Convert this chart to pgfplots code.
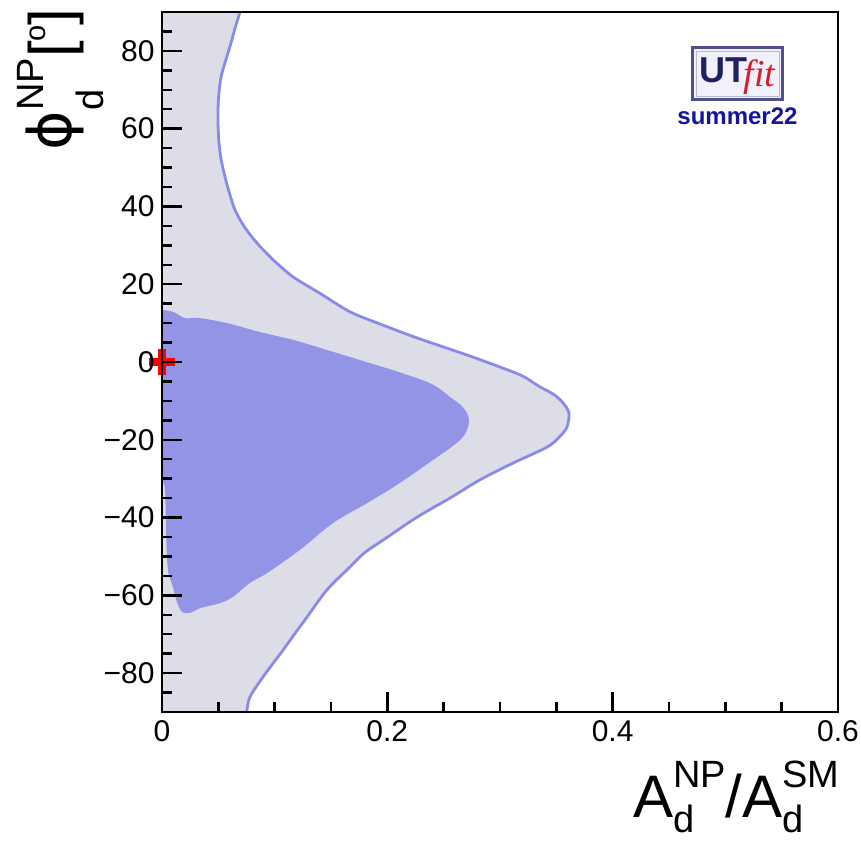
\documentclass[border=0pt]{standalone}
\usepackage{pgfplots}
\pgfplotsset{compat=1.18}
\usepackage{fontspec}
\setmainfont{Liberation Sans}
\newfontfamily\phifont{DejaVu Sans}
\newfontfamily\fitfont{Liberation Serif}

\definecolor{outerfill}{RGB}{221,221,232}
\definecolor{innerfill}{RGB}{148,148,230}
\definecolor{contourline}{RGB}{138,138,234}
\definecolor{utnavy}{RGB}{32,32,96}
\definecolor{summerblue}{RGB}{20,20,160}
\definecolor{fitred}{RGB}{215,30,40}
\definecolor{logoframe}{RGB}{80,80,140}
\definecolor{logoback}{RGB}{242,240,250}

% superscript over subscript, as in A^{NP}_{d}
\newcommand\supsub[4]{%
  \makebox[0pt][l]{\raisebox{-#4}{\fontsize{19}{19}\selectfont #2}}%
  \raisebox{#3}{\fontsize{19}{19}\selectfont #1}}

% 95% region (outer contour), right-hand boundary from top to bottom
\pgfplotstableread{
x y
0.0692 90
0.0650 86
0.0612 82
0.0565 77.5
0.0524 73.3
0.0505 69
0.0497 64.8
0.0498 60.5
0.0506 56.3
0.0525 52
0.0559 47.6
0.0600 43.3
0.0648 39.1
0.0730 34.8
0.0843 30.6
0.0990 26.2
0.1163 21.9
0.1400 17.7
0.1669 12.9
0.1960 9.5
0.2263 6.2
0.2707 1.8
0.3000 -1.3
0.3200 -3.6
0.3355 -6.4
0.3480 -8.4
0.3559 -10.5
0.3612 -13.1
0.3595 -16.7
0.3530 -19.2
0.3417 -21.9
0.3115 -26.0
0.2822 -30.3
0.2556 -35.0
0.2263 -39.9
0.1962 -45.8
0.1800 -49.0
0.1669 -52.7
0.1464 -58.6
0.1287 -65.6
0.1180 -69.8
0.1074 -74.1
0.0896 -81.0
0.0781 -86.1
0.0754 -89.5
0.0750 -90
}\outercontour

% 68% region (inner contour), closed
\pgfplotstableread{
x y
0 13.4
0.0098 12.9
0.0204 11.3
0.0337 11.3
0.0577 10.0
0.0870 7.7
0.1163 5.7
0.1464 3.1
0.1757 0.5
0.2050 -2.1
0.2352 -5.1
0.2470 -7.0
0.2556 -9.0
0.2650 -11.0
0.2707 -13.1
0.2725 -15.0
0.2716 -16.7
0.2690 -18.5
0.2645 -20.1
0.2540 -22.5
0.2405 -25.2
0.2112 -31.1
0.1820 -36.3
0.1518 -41.4
0.1225 -48.3
0.0932 -54.3
0.0781 -56.8
0.0630 -60.4
0.0515 -62.0
0.0337 -63.3
0.0249 -64.5
0.0178 -64.3
0.0130 -61.5
0.0098 -57.9
0.0053 -53.5
0.0036 -44.0
0.0027 -32.9
0 -30.3
}\innercontour

\begin{document}
\begin{tikzpicture}
\begin{axis}[
  name=ax,
  scale only axis,
  width=338pt, height=350pt,
  xmin=0, xmax=0.6, ymin=-90, ymax=90,
  axis on top,
  clip mode=individual,
  axis line style={line width=1.35pt},
  tick style={line width=1.2pt, black},
  tick align=inside,
  tick pos=left,
  major tick length=10pt,
  minor tick length=5pt,
  xtick={0,0.2,0.4,0.6},
  xticklabels={0,0.2,0.4,0.6},
  minor xtick={0.05,0.1,0.15,0.25,0.3,0.35,0.45,0.5,0.55},
  ytick={-80,-60,-40,-20,0,20,40,60,80},
  yticklabels={−80,−60,−40,−20,0,20,40,60,80},
  minor ytick={-85,-75,-70,-65,-55,-50,-45,-35,-30,-25,-15,-10,-5,5,10,15,25,30,35,45,50,55,65,70,75,85},
  ticklabel style={font=\fontsize{15}{15}\selectfont, inner sep=0pt},
  xticklabel shift=4pt,
  yticklabel shift=3.5pt,
]
  % outer region, closed along the left and the top/bottom of the frame
  \addplot[fill=outerfill, draw=none, smooth, tension=0.5] table {\outercontour}
    -- (axis cs:0,-90) -- (axis cs:0,90) -- cycle;
  \addplot[contourline, line width=1.4pt, line join=round, smooth, tension=0.5]
    table {\outercontour};
  % inner region
  \addplot[fill=innerfill, draw=none, smooth, tension=0.5] table {\innercontour} -- cycle;
  % Standard Model point
  \addplot[only marks, mark=+, mark size=6.5pt,
    mark options={line width=4pt, red}] coordinates {(0,0)};

  % UTfit logo
  \node[draw=logoframe, line width=1.5pt, fill=logoback,
    minimum width=45pt, minimum height=26pt, inner sep=0pt]
    at (axis description cs:0.852,0.9115) {};
  \node[draw=logoframe!40, line width=0.5pt,
    minimum width=41.5pt, minimum height=22.5pt, inner sep=0pt]
    at (axis description cs:0.852,0.9115) {};
  \node[anchor=base west, inner sep=0pt, text=utnavy,
    font=\fontsize{18}{18}\selectfont\bfseries]
    at (axis description cs:0.7945,0.900) {UT};
  \node[anchor=base west, inner sep=0pt, text=fitred,
    font=\fontsize{19}{19}\selectfont\fitfont\itshape]
    at (axis description cs:0.8600,0.8930) {fit};
  \node[inner sep=0pt, text=summerblue,
    font=\fontsize{12}{12}\selectfont\bfseries]
    at (axis description cs:0.8513,0.8507) {summer22};

  % axis titles
  \node[anchor=base east, inner sep=0pt, font=\fontsize{30}{30}\selectfont]
    at (axis description cs:1.003,-0.151)
    {A\supsub{NP}{d}{15pt}{7.5pt}/A\supsub{SM}{d}{15pt}{7.5pt}};
  \node[rotate=90, anchor=base east, inner sep=0pt, font=\fontsize{30}{30}\selectfont]
    at (axis description cs:-0.1346,1.0057)
    {{\phifont ϕ}\supsub{NP}{d}{14pt}{16pt}[\raisebox{13pt}{\fontsize{14.5}{14.5}\selectfont o}]};
\end{axis}
\pgfresetboundingbox
\path (ax.south west) ++(-81pt,-64pt) rectangle ++(430.5pt,420pt);
\end{tikzpicture}
\end{document}
